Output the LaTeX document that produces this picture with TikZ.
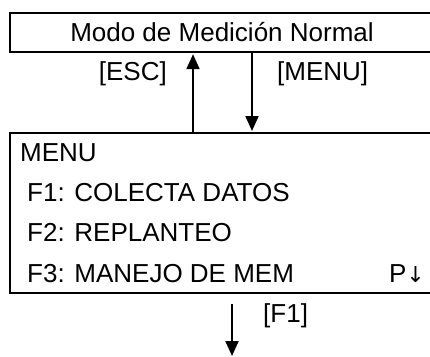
\documentclass[tikz,border=0pt]{standalone}
\usepackage{fontspec}
\setmainfont{Liberation Sans}
\newfontfamily\arrowfont{DejaVu Sans}
\usetikzlibrary{positioning,arrows.meta,calc}

\begin{document}
\begin{tikzpicture}[
  x=1pt, y=-1pt,
  screen/.style={draw=black, line width=2.2pt, rectangle, inner sep=0pt, anchor=north west},
  txt/.style={font=\fontsize{26}{30}\selectfont, inner sep=0pt},
  keyarrow/.style={draw=black, line width=2pt, -{Triangle[length=15pt, width=13pt]}}
]
\clip (0,0) rectangle (430,356);

% screens (run past the right edge)
\node[screen, minimum width=450pt, minimum height=39pt] (modo) at (9,12) {};
\node[screen, minimum width=450pt, minimum height=160pt] (menu) at (9,132) {};

\node[txt, anchor=base] (modotxt) at (222,41) {Modo de Medición Normal};
\node[txt, anchor=base west] (l0) at (20,161) {MENU};
\node[txt, anchor=base west] (l1) at (27,201) {F1: COLECTA DATOS};
\node[txt, anchor=base west] (l2) at (27,241) {F2: REPLANTEO};
\node[txt, anchor=base west] (l3) at (27,282) {F3: MANEJO DE MEM};
\node[txt, anchor=base east] (pg) at (425,282) {P{\arrowfont\fontsize{22}{26}\selectfont ↓}};

% keys
\node[txt, anchor=base east] (esc) at (167,80) {[ESC]};
\node[txt, anchor=base west] (menukey) at (277,80) {[MENU]};
\node[txt, anchor=base west] (f1) at (263,322) {[F1]};

\coordinate (upx) at (193,0);
\coordinate (downx) at (252,0);
\coordinate (nxt) at (232,356);

\draw[keyarrow] (menu.north -| upx) -- ($(modo.south -| upx)+(0,1)$);
\draw[keyarrow] (modo.south -| downx) -- ($(menu.north -| downx)+(0,-1)$);
\draw[keyarrow] ($(menu.south -| nxt)+(0,10)$) -- (nxt);

\end{tikzpicture}
\end{document}
